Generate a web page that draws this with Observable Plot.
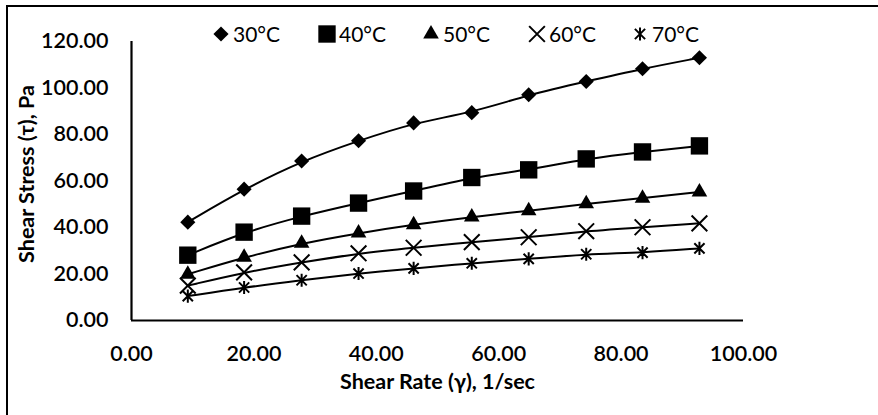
<!DOCTYPE html>
<html>
<head>
<meta charset="utf-8">
<script src="https://cdn.jsdelivr.net/npm/d3@7"></script>
<script src="https://cdn.jsdelivr.net/npm/@observablehq/plot@0.6"></script>
<style>
  html, body { margin: 0; padding: 0; background: #fff; }
  #wrap { position: relative; width: 878px; height: 415px; overflow: hidden; font-family: Lato, "Open Sans", sans-serif; }
  #frame { position: absolute; left: 6px; top: 5px; right: -10px; bottom: -10px; border-top: 2px solid #000; border-left: 2px solid #000; pointer-events: none; }
  #legend { position: absolute; top: 21px; left: 0; height: 24px; }
  .item { position: absolute; top: 0; display: flex; align-items: center; font-size: 21px; color: #000; }
  .item svg { overflow: visible; }
</style>
</head>
<body>
<div id="wrap">
  <div id="chart"></div>
  <div id="frame"></div>
  <div id="legend"></div>
</div>
<script>
// ---- data ----
const seriesNames = ["30°C", "40°C", "50°C", "60°C", "70°C"];
const shearRate = [9.2, 18.4, 27.8, 37.1, 46.1, 55.6, 64.9, 74.3, 83.5, 92.8];
const stress30 = [42.3, 56.5, 68.6, 77.3, 85.0, 89.4, 97.1, 102.8, 108.3, 113.0];
const stress40 = [28.1, 38.0, 44.9, 50.5, 55.7, 61.5, 64.8, 69.5, 72.5, 75.1];
const stress50 = [19.9, 27.2, 33.2, 37.6, 41.2, 44.5, 47.2, 50.2, 52.6, 55.3];
const stress60 = [15.0, 20.7, 25.0, 28.9, 31.3, 33.7, 35.8, 38.4, 40.1, 41.8];
const stress70 = [10.5, 14.2, 17.3, 20.2, 22.4, 24.6, 26.5, 28.5, 29.2, 31.0];
const xTicks = [0, 20, 40, 60, 80, 100];
const yTicks = [0, 20, 40, 60, 80, 100, 120];

const stressSeries = [stress30, stress40, stress50, stress60, stress70];
const data = [];
seriesNames.forEach((name, s) => {
  shearRate.forEach((x, i) => data.push({series: name, x, y: stressSeries[s][i]}));
});

// custom Excel-like star marker (vertical bar + X)
const starSymbol = {
  draw(ctx, size) {
    const r = Math.sqrt(size) * 0.56;
    const a = r * 0.78;
    ctx.moveTo(0, -r); ctx.lineTo(0, r);
    ctx.moveTo(-a, -a); ctx.lineTo(a, a);
    ctx.moveTo(-a, a); ctx.lineTo(a, -a);
  }
};

const styles = {
  "30°C": {symbol: "diamond2", r: 6.8, fill: "#000", stroke: "none"},
  "40°C": {symbol: "square", r: 9.8, fill: "#000", stroke: "none"},
  "50°C": {symbol: "triangle", r: 5.8, fill: "#000", stroke: "none"},
  "60°C": {symbol: "times", r: 7.2, fill: "none", stroke: "#000", strokeWidth: 2},
  "70°C": {symbol: starSymbol, r: 6.6, fill: "none", stroke: "#000", strokeWidth: 2}
};

const marks = [
  Plot.ruleX([0], {stroke: "#000", strokeWidth: 2.2}),
  Plot.ruleY([0], {stroke: "#000", strokeWidth: 2.2})
];
seriesNames.forEach(name => {
  const d = data.filter(r => r.series === name);
  marks.push(Plot.line(d, {x: "x", y: "y", curve: "basis", stroke: "#000", strokeWidth: 2}));
});
seriesNames.forEach(name => {
  const d = data.filter(r => r.series === name);
  marks.push(Plot.dot(d, {x: "x", y: "y", ...styles[name]}));
});
marks.push(
  Plot.axisX(xTicks, {tickSize: 0, tickPadding: 25, tickFormat: d3.format(".2f"), label: null, fontSize: 21.5, fontWeight: 600}),
  Plot.axisY(yTicks, {tickSize: 0, tickPadding: 23, tickFormat: d3.format(".2f"), label: null, fontSize: 21.5, fontWeight: 600}),
  Plot.text(["Shear Rate (γ), 1/sec"], {frameAnchor: "bottom", dy: 68, fontWeight: "bold", fontSize: 21.5, textAnchor: "middle"}),
  Plot.text(["Shear Stress (τ), Pa"], {frameAnchor: "left", rotate: -90, dx: -104, dy: -7, fontWeight: "bold", fontSize: 21.5, textAnchor: "middle", lineAnchor: "middle"})
);

const chart = Plot.plot({
  width: 878,
  height: 415,
  marginLeft: 131,
  marginRight: 135,
  marginTop: 41,
  marginBottom: 95,
  style: {fontFamily: "Lato, 'Open Sans', sans-serif", color: "#000", background: "#fff"},
  x: {domain: [0, 100]},
  y: {domain: [0, 120]},
  marks
});
document.getElementById("chart").appendChild(chart);

// legend
const legendX = [221, 327, 431, 537, 640];
const legend = document.getElementById("legend");
const symbolMap = {diamond2: d3.symbolDiamond2, square: d3.symbolSquare, triangle: d3.symbolTriangle, times: d3.symbolTimes};
seriesNames.forEach((name, i) => {
  const st = styles[name];
  const item = document.createElement("div");
  item.className = "item";
  item.style.left = (legendX[i] - 10) + "px";
  const d3sym = symbolMap[st.symbol] || st.symbol;
  const size = Math.PI * st.r * st.r;
  const path = d3.symbol(d3sym, size)();
  const svg = d3.create("svg").attr("width", 20).attr("height", 24).attr("viewBox", "-10 -12 20 24");
  svg.append("path").attr("d", path).attr("fill", st.fill).attr("stroke", st.stroke)
    .attr("stroke-width", st.strokeWidth || null);
  item.appendChild(svg.node());
  const label = document.createElement("span");
  label.textContent = name;
  label.style.marginLeft = "2px";
  item.appendChild(label);
  legend.appendChild(item);
});
</script>
</body>
</html>
